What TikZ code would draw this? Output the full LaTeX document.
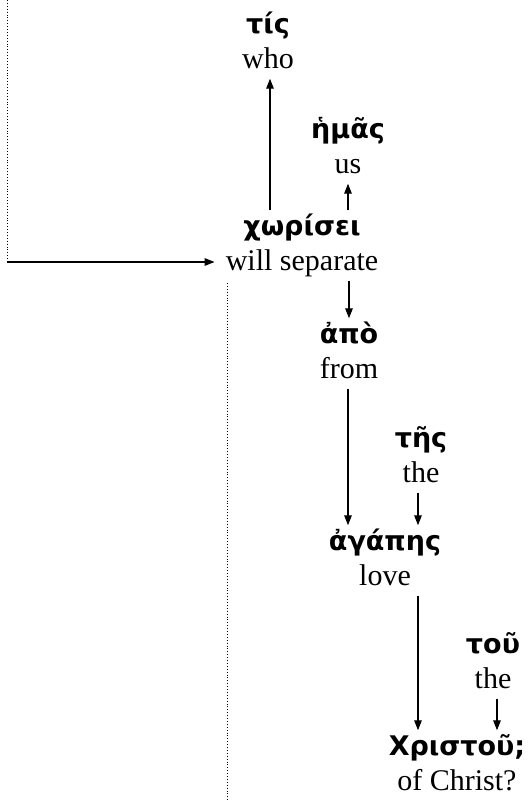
\documentclass[tikz,border=0pt]{standalone}
\usepackage{fontspec}
\setmainfont{Liberation Serif}
\newfontfamily\greekfont{DejaVu Sans}
\usetikzlibrary{arrows.meta}

\newcommand{\gr}[1]{{\greekfont\bfseries\fontsize{27}{35}\selectfont\strut#1}}

\tikzset{
  word/.style={align=center, inner sep=0pt, font=\fontsize{30}{35}\selectfont},
  link/.style={-{Triangle[length=10pt,width=7.5pt]}, line width=1.3pt},
  guide/.style={dotted, line width=0.9pt}
}

\begin{document}
\begin{tikzpicture}[x=1pt,y=-1pt]
\useasboundingbox (0,0) rectangle (528,801);

% words
\node[word] (tis) at (268, 43.5) {\gr{τίς}\\ who\strut};
\node[word] (hemas) at (348, 148.5) {\gr{ἡμᾶς}\\ us\strut};
\node[word] (chorisei) at (302, 245.5) {\gr{χωρίσει}\\ will separate\strut};
\node[word] (apo) at (349, 353.5) {\gr{ἀπὸ}\\ from\strut};
\node[word] (tes) at (421, 457.5) {\gr{τῆς}\\ the\strut};
\node[word] (agapes) at (385, 560.5) {\gr{ἀγάπης}\\ love\strut};
\node[word] (tou) at (493, 663.5) {\gr{τοῦ}\\ the\strut};
\node[word] (christou) at (457, 765.5) {\gr{Χριστοῦ;}\\ of Christ?\strut};

% guide lines
\coordinate (lefttop) at (7, 0);
\coordinate (leftcorner) at (7, 262);
\coordinate (dotA) at (227, 283);
\coordinate (dotB) at (227, 801);
\draw[guide] (lefttop) -- (leftcorner);
\draw[guide] (dotA) -- (dotB);
\draw[link] (leftcorner) -- ([xshift=-11pt]leftcorner -| chorisei.west);

% links
\draw[link] ([xshift=2pt]chorisei.north -| tis.south) -- ([xshift=2pt]tis.south);
\draw[link] (chorisei.north -| hemas.south) -- (hemas.south);
\draw[link] (chorisei.south -| apo.north) -- (apo.north);
\draw[link] ([xshift=-1pt]apo.south) -- ([xshift=-1pt]apo.south |- agapes.north);
\draw[link] ([xshift=-3pt]tes.south) -- ([xshift=-3pt]tes.south |- agapes.north);
\draw[link] ([xshift=33pt]agapes.south) -- ([xshift=33pt]agapes.south |- christou.north);
\draw[link] ([xshift=4pt]tou.south) -- ([xshift=4pt]tou.south |- christou.north);
\end{tikzpicture}
\end{document}
